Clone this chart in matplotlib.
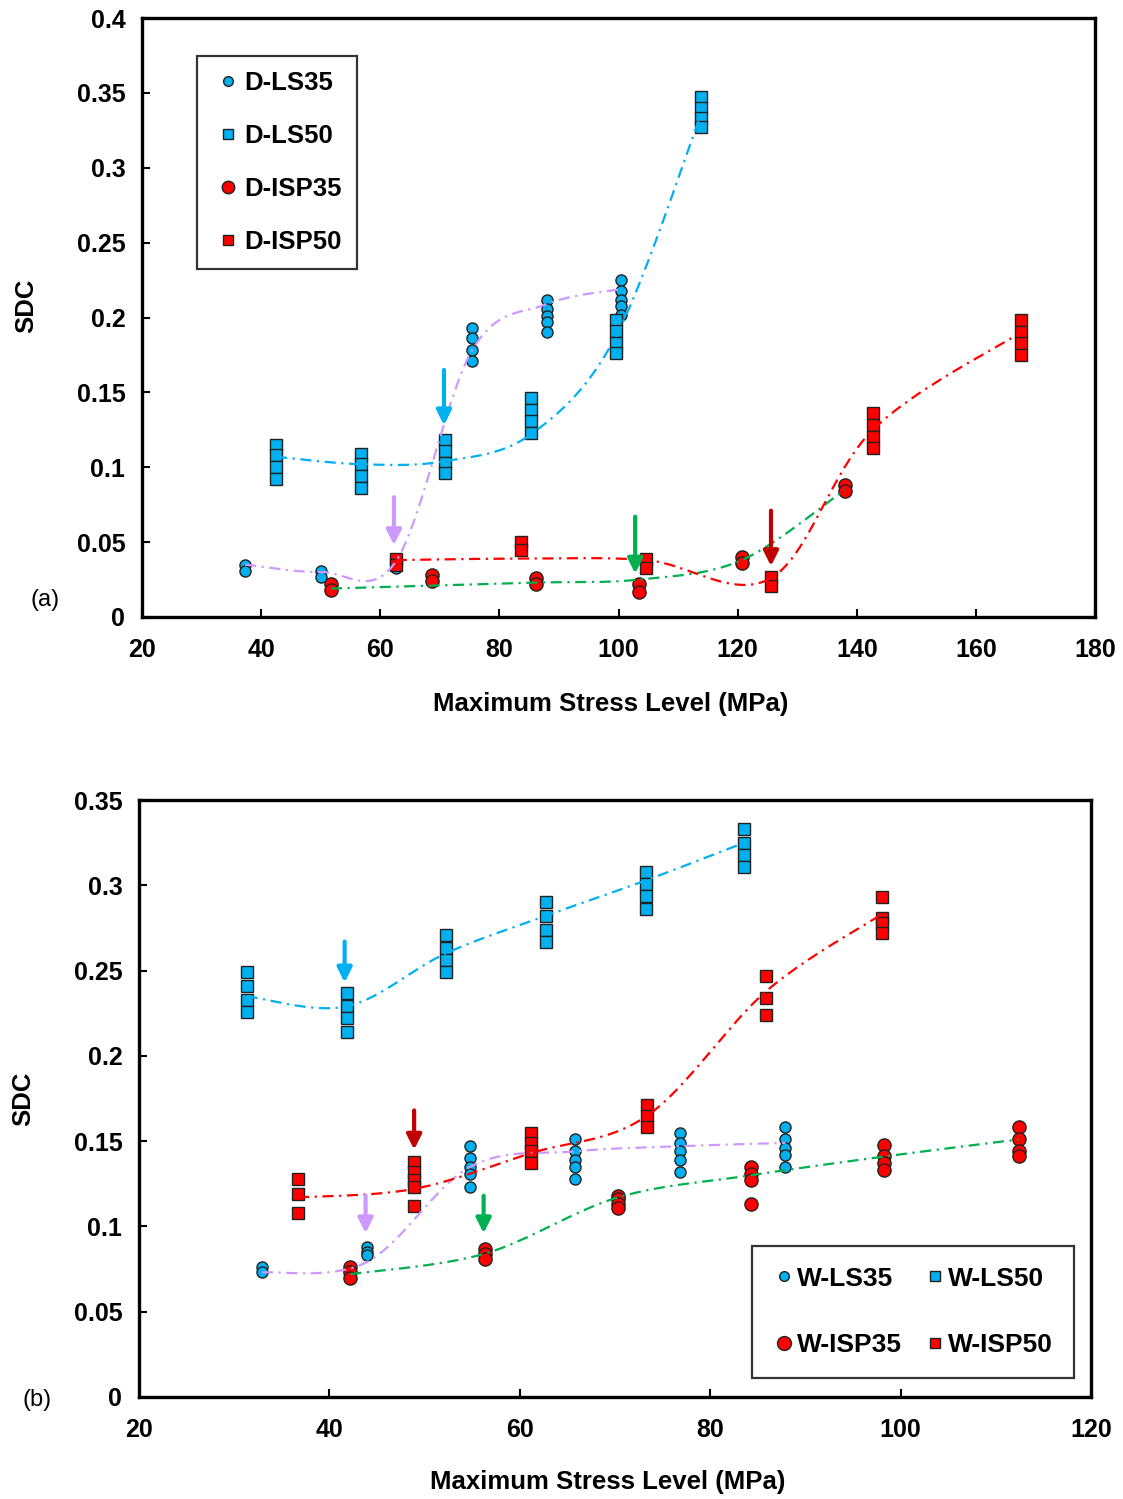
import numpy as np
import matplotlib
matplotlib.use("Agg")
import matplotlib.pyplot as plt
from matplotlib.lines import Line2D

plt.rcParams['font.family'] = ['Liberation Sans', 'DejaVu Sans']

# ---------------- Panel (a) data ----------------
dls35_x = [37.3, 50.1, 62.6, 75.4, 88.0, 100.5]
dls35_y = [[0.035, 0.031], [0.031, 0.027], [0.033],
           [0.193, 0.186, 0.178, 0.171], [0.212, 0.206, 0.201, 0.197, 0.190],
           [0.225, 0.218, 0.212, 0.208, 0.202]]
dls35_trend = [0.035, 0.030, 0.037, 0.178, 0.209, 0.219]

dls50_x = [42.5, 56.8, 70.8, 85.3, 99.5, 113.8]
dls50_y = [[0.115, 0.108, 0.100, 0.092], [0.109, 0.102, 0.094, 0.086],
           [0.118, 0.111, 0.103, 0.096], [0.146, 0.138, 0.131, 0.123],
           [0.198, 0.191, 0.183, 0.176], [0.347, 0.340, 0.333, 0.327]]
dls50_trend = [0.107, 0.102, 0.104, 0.122, 0.187, 0.335]

disp35_x = [51.7, 68.7, 86.1, 103.5, 120.7, 138.0]
disp35_y = [[0.022, 0.018], [0.028, 0.024], [0.026, 0.022],
            [0.022, 0.017], [0.040, 0.036], [0.088, 0.084]]
disp35_trend = [0.019, 0.021, 0.023, 0.025, 0.038, 0.085]

disp50_x = [62.6, 83.6, 104.7, 125.6, 142.7, 167.5]
disp50_y = [[0.039, 0.035], [0.050, 0.045], [0.039, 0.033],
            [0.027, 0.021], [0.136, 0.128, 0.120, 0.113],
            [0.198, 0.190, 0.183, 0.175]]
disp50_trend = [0.038, 0.039, 0.038, 0.026, 0.125, 0.190]

# arrows (x, y_start, y_end, colour)
arrows_a = [(70.7, 0.165, 0.128, '#00B0F0'), (62.3, 0.080, 0.048, '#CC99FF'),
            (102.8, 0.067, 0.029, '#00B050'), (125.6, 0.071, 0.034, '#C00000')]

# ---------------- Panel (b) data ----------------
wls35_x = [32.9, 43.9, 54.8, 65.8, 76.8, 87.9]
wls35_y = [[0.076, 0.073], [0.088, 0.085, 0.083],
           [0.147, 0.140, 0.135, 0.131, 0.123], [0.151, 0.144, 0.139, 0.135, 0.128],
           [0.155, 0.149, 0.144, 0.139, 0.132], [0.158, 0.151, 0.146, 0.142, 0.135]]
wls35_trend = [0.073, 0.079, 0.135, 0.144, 0.147, 0.149]

wls50_x = [31.3, 41.8, 52.2, 62.7, 73.3, 83.6]
wls50_y = [[0.249, 0.241, 0.233, 0.226], [0.237, 0.229, 0.222, 0.214],
           [0.271, 0.263, 0.256, 0.249], [0.290, 0.282, 0.274, 0.267],
           [0.308, 0.301, 0.294, 0.286], [0.333, 0.325, 0.318, 0.311]]
wls50_trend = [0.235, 0.229, 0.260, 0.282, 0.303, 0.325]

wisp35_x = [42.2, 56.3, 70.3, 84.3, 98.3, 112.4]
wisp35_y = [[0.076, 0.073, 0.070], [0.087, 0.084, 0.081],
            [0.118, 0.116, 0.113, 0.111], [0.135, 0.131, 0.127, 0.113],
            [0.148, 0.141, 0.137, 0.133], [0.158, 0.151, 0.144, 0.141]]
wisp35_trend = [0.072, 0.084, 0.117, 0.130, 0.141, 0.151]

wisp50_x = [36.7, 48.9, 61.2, 73.4, 85.9, 98.0]
wisp50_y = [[0.128, 0.119, 0.108], [0.138, 0.132, 0.127, 0.123, 0.112],
            [0.155, 0.149, 0.144, 0.137], [0.171, 0.165, 0.158],
            [0.247, 0.234, 0.224], [0.293, 0.281, 0.278, 0.272]]
wisp50_trend = [0.117, 0.122, 0.143, 0.165, 0.238, 0.283]

arrows_b = [(41.6, 0.267, 0.243, '#00B0F0'), (48.9, 0.168, 0.145, '#C00000'),
            (43.8, 0.118, 0.096, '#CC99FF'), (56.2, 0.118, 0.096, '#00B050')]

BLUE = '#00B0F0'
RED = '#FF0000'
LAV = '#CC99FF'
GREEN = '#00B050'
EDGE = '#222222'

TICK_FS = 18
LABEL_FS = 18.5


def catmull(xs, ys, n=40):
    P = np.column_stack([xs, ys]).astype(float)
    P_ext = np.vstack([P[0], P, P[-1]])
    out = []
    t = np.linspace(0, 1, n)[:, None]
    for i in range(1, len(P_ext) - 2):
        p0, p1, p2, p3 = P_ext[i - 1], P_ext[i], P_ext[i + 1], P_ext[i + 2]
        b1 = p1 + (p2 - p0) / 6.0
        b2 = p2 - (p3 - p1) / 6.0
        seg = ((1 - t) ** 3) * p1 + 3 * ((1 - t) ** 2) * t * b1 + 3 * (1 - t) * t ** 2 * b2 + t ** 3 * p2
        out.append(seg if i == 1 else seg[1:])
    out = np.vstack(out)
    return out[:, 0], out[:, 1]


def scatter_groups(ax, xs, ylists, marker, color, ms):
    for x, yl in zip(xs, ylists):
        ax.plot([x] * len(yl), yl, linestyle='none', marker=marker, ms=ms,
                markerfacecolor=color, markeredgecolor=EDGE, markeredgewidth=1.0, zorder=3)


def trend(ax, xs, ys, color):
    sx, sy = catmull(xs, ys)
    ax.plot(sx, sy, color=color, lw=1.6, linestyle=(0, (5, 2.5, 1, 2.5)), zorder=4)


def draw_arrows(ax, arrows):
    for x, y0, y1, c in arrows:
        ax.annotate('', xy=(x, y1), xytext=(x, y0),
                    arrowprops=dict(arrowstyle='-|>', color=c, lw=3,
                                    mutation_scale=22, shrinkA=0, shrinkB=0),
                    zorder=5)


def style_axes(ax):
    for s in ax.spines.values():
        s.set_linewidth(2.4)
        s.set_color('black')
    ax.tick_params(direction='in', length=6, width=1.5, labelsize=TICK_FS)
    ax.tick_params(axis='x', pad=15)
    ax.tick_params(axis='y', pad=12)
    for lab in ax.get_xticklabels() + ax.get_yticklabels():
        lab.set_fontweight('bold')


fig = plt.figure(figsize=(11.23, 14.99), dpi=100)

# ---------------- Panel (a) ----------------
axa = fig.add_axes([142 / 1123, 1 - 617 / 1499, 953 / 1123, 599 / 1499])
scatter_groups(axa, dls35_x, dls35_y, 'o', BLUE, 8)
scatter_groups(axa, dls50_x, dls50_y, 's', BLUE, 8.5)
scatter_groups(axa, disp35_x, disp35_y, 'o', RED, 9.5)
scatter_groups(axa, disp50_x, disp50_y, 's', RED, 8.5)
trend(axa, dls35_x, dls35_trend, LAV)
trend(axa, dls50_x, dls50_trend, BLUE)
trend(axa, disp35_x, disp35_trend, GREEN)
trend(axa, disp50_x, disp50_trend, RED)
draw_arrows(axa, arrows_a)
axa.set_xlim(20, 180)
axa.set_ylim(0, 0.4)
axa.set_xticks(np.arange(20, 181, 20))
axa.set_yticks(np.arange(0, 0.401, 0.05))
axa.set_yticklabels(['0', '0.05', '0.1', '0.15', '0.2', '0.25', '0.3', '0.35', '0.4'])
style_axes(axa)
axa.set_xlabel('Maximum Stress Level (MPa)', fontsize=LABEL_FS, fontweight='bold')
axa.set_ylabel('SDC', fontsize=LABEL_FS, fontweight='bold')
axa.xaxis.set_label_coords(0.492, -0.125)
axa.yaxis.set_label_coords(-0.109, 0.52)

hA = [Line2D([], [], ls='none', marker='o', ms=7, mfc=BLUE, mec=EDGE, mew=1),
      Line2D([], [], ls='none', marker='s', ms=7, mfc=BLUE, mec=EDGE, mew=1),
      Line2D([], [], ls='none', marker='o', ms=9, mfc=RED, mec=EDGE, mew=1),
      Line2D([], [], ls='none', marker='s', ms=7, mfc=RED, mec=EDGE, mew=1)]
legA = axa.legend(hA, ['D-LS35', 'D-LS50', 'D-ISP35', 'D-ISP50'],
                  loc='upper left', bbox_to_anchor=(0.0577, 0.9366),
                  prop=dict(weight='bold', size=18.5), frameon=True, fancybox=False,
                  edgecolor='black', labelspacing=1.12, handlelength=1.25,
                  handletextpad=0.0, borderpad=0.6, borderaxespad=0)
legA.get_frame().set_linewidth(1.6)

fig.text(45 / 1123, 1 - 600 / 1499, '(a)', fontsize=17, ha='center', va='center')

# ---------------- Panel (b) ----------------
axb = fig.add_axes([139 / 1123, 1 - 1397 / 1499, 952 / 1123, 597 / 1499])
scatter_groups(axb, wls35_x, wls35_y, 'o', BLUE, 8)
scatter_groups(axb, wls50_x, wls50_y, 's', BLUE, 8.5)
scatter_groups(axb, wisp35_x, wisp35_y, 'o', RED, 9.5)
scatter_groups(axb, wisp50_x, wisp50_y, 's', RED, 8.5)
trend(axb, wls35_x, wls35_trend, LAV)
trend(axb, wls50_x, wls50_trend, BLUE)
trend(axb, wisp35_x, wisp35_trend, GREEN)
trend(axb, wisp50_x, wisp50_trend, RED)
draw_arrows(axb, arrows_b)
axb.set_xlim(20, 120)
axb.set_ylim(0, 0.35)
axb.set_xticks(np.arange(20, 121, 20))
axb.set_yticks(np.arange(0, 0.351, 0.05))
axb.set_yticklabels(['0', '0.05', '0.1', '0.15', '0.2', '0.25', '0.3', '0.35'])
style_axes(axb)
axb.set_xlabel('Maximum Stress Level (MPa)', fontsize=LABEL_FS, fontweight='bold')
axb.set_ylabel('SDC', fontsize=LABEL_FS, fontweight='bold')
axb.xaxis.set_label_coords(0.4926, -0.123)
axb.yaxis.set_label_coords(-0.109, 0.5)

hB = [Line2D([], [], ls='none', marker='o', ms=7, mfc=BLUE, mec=EDGE, mew=1),
      Line2D([], [], ls='none', marker='o', ms=10, mfc=RED, mec=EDGE, mew=1),
      Line2D([], [], ls='none', marker='s', ms=7, mfc=BLUE, mec=EDGE, mew=1),
      Line2D([], [], ls='none', marker='s', ms=7, mfc=RED, mec=EDGE, mew=1)]
legB = axb.legend(hB, ['W-LS35', 'W-ISP35', 'W-LS50', 'W-ISP50'], ncol=2,
                  loc='lower right', bbox_to_anchor=((1074 - 139) / 952, (1397 - 1378) / 597),
                  prop=dict(weight='bold', size=19), frameon=True, fancybox=False,
                  edgecolor='black', labelspacing=1.6, handlelength=0.8,
                  handletextpad=0.1, borderpad=0.8, columnspacing=0.85, borderaxespad=0)
legB.get_frame().set_linewidth(1.6)

fig.text(37 / 1123, 1 - 1400 / 1499, '(b)', fontsize=17, ha='center', va='center')

fig.savefig('out.png', dpi=100, facecolor='white')
